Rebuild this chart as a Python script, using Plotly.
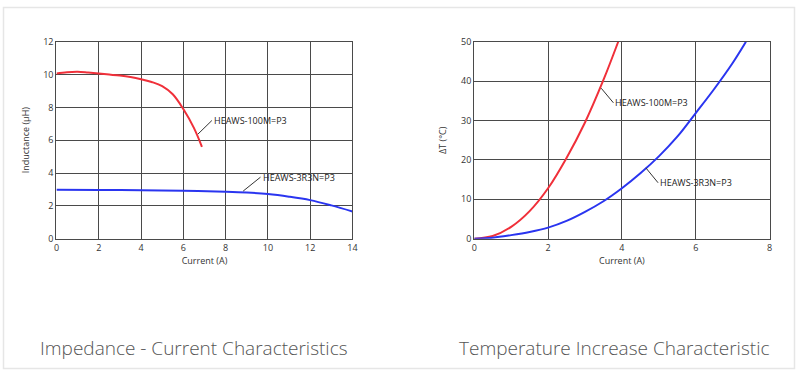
import plotly.graph_objects as go

# ---- Data: Impedance (Inductance) - Current ----
ind_100m_x = [0, 0.5, 1, 1.5, 2, 2.5, 3, 3.5, 4, 4.5, 5, 5.5, 6, 6.5, 6.88]
ind_100m_y = [10.06, 10.14, 10.17, 10.12, 10.06, 10.0, 9.94, 9.85, 9.72, 9.55, 9.3, 8.8, 7.9, 6.75, 5.6]
ind_3r3n_x = [0, 2, 4, 6, 8, 9, 10, 11, 12, 13, 14]
ind_3r3n_y = [2.98, 2.97, 2.95, 2.92, 2.86, 2.81, 2.72, 2.56, 2.35, 2.03, 1.66]

# ---- Data: Temperature increase ----
dt_100m_x = [0, 0.5, 1, 1.5, 2, 2.5, 3, 3.5, 3.9]
dt_100m_y = [0, 0.7, 3.0, 7.0, 12.8, 20.5, 29.5, 40.3, 50]
dt_3r3n_x = [0, 0.5, 1, 1.5, 2, 2.5, 3, 3.5, 4, 4.5, 5, 5.5, 6, 6.5, 7, 7.36]
dt_3r3n_y = [0, 0.25, 0.9, 1.7, 2.8, 4.5, 6.8, 9.5, 12.8, 16.6, 20.9, 25.9, 31.9, 38.0, 44.6, 50]

left_xticks = [0, 2, 4, 6, 8, 10, 12, 14]
left_yticks = [0, 2, 4, 6, 8, 10, 12]
right_xticks = [0, 2, 4, 6, 8]
right_yticks = [0, 10, 20, 30, 40, 50]

W, H = 800, 375
RED = "#f0303a"
BLUE = "#2a35f0"
GRID = "#4a4a4a"
TICKFONT = dict(family="Open Sans", size=9, color="#333333")
TITLEFONT = dict(family="Open Sans", size=9, color="#333333")

fig = go.Figure()
fig.add_trace(go.Scatter(x=ind_100m_x, y=ind_100m_y, mode="lines", line=dict(color=RED, width=2, shape="spline"),
                         xaxis="x", yaxis="y", showlegend=False))
fig.add_trace(go.Scatter(x=ind_3r3n_x, y=ind_3r3n_y, mode="lines", line=dict(color=BLUE, width=2, shape="spline"),
                         xaxis="x", yaxis="y", showlegend=False))
fig.add_trace(go.Scatter(x=dt_100m_x, y=dt_100m_y, mode="lines", line=dict(color=RED, width=2, shape="spline"),
                         xaxis="x2", yaxis="y2", showlegend=False))
fig.add_trace(go.Scatter(x=dt_3r3n_x, y=dt_3r3n_y, mode="lines", line=dict(color=BLUE, width=2, shape="spline"),
                         xaxis="x2", yaxis="y2", showlegend=False))

axis_common = dict(showgrid=True, gridcolor=GRID, gridwidth=1.3, zeroline=False,
                   showline=True, linecolor=GRID, linewidth=1.3, mirror=True,
                   ticks="", tickfont=TICKFONT, fixedrange=True)

fig.update_layout(
    width=W, height=H,
    margin=dict(l=0, r=0, t=0, b=0),
    paper_bgcolor="white", plot_bgcolor="white",
    xaxis=dict(domain=[54 / W, 353 / W], range=[0, 14], tickvals=left_xticks, anchor="y",
               title=dict(text="Current (A)", font=TITLEFONT, standoff=4), **axis_common),
    yaxis=dict(domain=[(H - 240) / H, (H - 36) / H], range=[0, 12], tickvals=left_yticks, anchor="x",
               title=dict(text="Inductance (μH)", font=TITLEFONT, standoff=12), **axis_common),
    xaxis2=dict(domain=[476 / W, 774.3 / W], range=[0, 8], tickvals=right_xticks, anchor="y2",
                title=dict(text="Current (A)", font=TITLEFONT, standoff=4), **axis_common),
    yaxis2=dict(domain=[(H - 240) / H, (H - 36) / H], range=[0, 50], tickvals=right_yticks, anchor="x2",
                title=dict(text="ΔT (°C)", font=TITLEFONT, standoff=12), **axis_common),
)

lab_font = dict(family="Open Sans", size=9, color="#222")
# Leader lines + labels
fig.add_shape(type="line", xref="x", yref="y", x0=6.69, y0=6.37, x1=7.35, y1=7.2, line=dict(color="#333", width=1))
fig.add_annotation(xref="x", yref="y", x=7.35, y=7.2, text="HEAWS-100M=P3", showarrow=False,
                   xanchor="left", yanchor="middle", font=lab_font)
fig.add_shape(type="line", xref="x", yref="y", x0=8.83, y0=2.9, x1=9.65, y1=3.75, line=dict(color="#333", width=1))
fig.add_annotation(xref="x", yref="y", x=9.65, y=3.75, text="HEAWS-3R3N=P3", showarrow=False,
                   xanchor="left", yanchor="middle", font=lab_font)
fig.add_shape(type="line", xref="x2", yref="y2", x0=3.44, y0=38.2, x1=3.77, y1=34.5, line=dict(color="#333", width=1))
fig.add_annotation(xref="x2", yref="y2", x=3.77, y=34.5, text="HEAWS-100M=P3", showarrow=False,
                   xanchor="left", yanchor="middle", font=lab_font)
fig.add_shape(type="line", xref="x2", yref="y2", x0=4.65, y0=17.97, x1=4.98, y1=14.2, line=dict(color="#333", width=1))
fig.add_annotation(xref="x2", yref="y2", x=4.98, y=14.2, text="HEAWS-3R3N=P3", showarrow=False,
                   xanchor="left", yanchor="middle", font=lab_font)

# Bottom captions
cap_font = dict(family="Open Sans", size=19, color="#555555", weight=300)
fig.add_annotation(xref="paper", yref="paper", x=35 / W, y=(H - 353) / H, text="Impedance - Current Characteristics",
                   showarrow=False, xanchor="left", yanchor="middle", font=cap_font)
fig.add_annotation(xref="paper", yref="paper", x=459 / W, y=(H - 353) / H, text="Temperature Increase Characteristic",
                   showarrow=False, xanchor="left", yanchor="middle", font=cap_font)

# Outer frame
fig.add_shape(type="rect", xref="paper", yref="paper", x0=0.5 / W, y0=0.5 / H, x1=1 - 0.5 / W, y1=1 - 0.5 / H,
              line=dict(color="#e6e6e6", width=1.5), layer="below")

fig.write_html("out.html", config={"displayModeBar": False},
               post_script="document.body.style.margin='0';document.body.style.overflow='hidden';")
